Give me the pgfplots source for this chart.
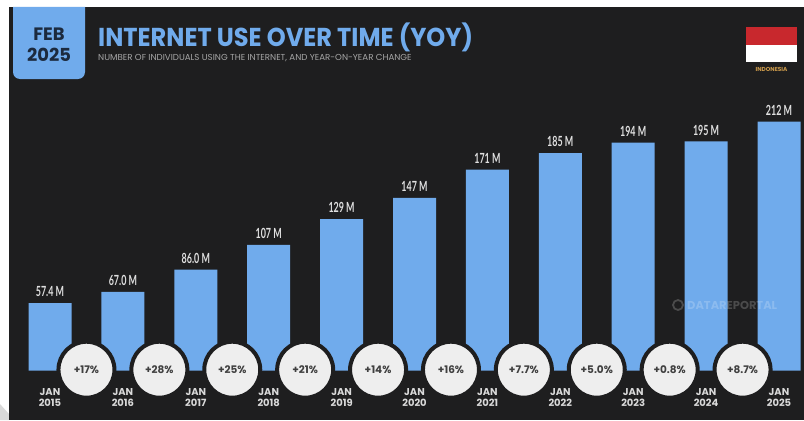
\documentclass[border=0pt]{standalone}
\usepackage{fontspec}
\usepackage{pgfplots}
\pgfplotsset{compat=1.18}
\setmainfont{Poppins}
\newfontfamily\titlefont[FakeStretch=0.93]{Poppins}
\newfontfamily\cond[FakeStretch=0.64]{Lato}
\definecolor{bg}{RGB}{30,30,31}
\definecolor{barblue}{RGB}{112,171,236}
\definecolor{navy}{RGB}{28,42,62}
\definecolor{pale}{RGB}{238,238,238}
\definecolor{flagred}{RGB}{200,40,45}
\definecolor{tan}{RGB}{205,155,75}
\begin{document}
\begin{tikzpicture}[x=1bp,y=1bp]
\useasboundingbox (0,0) rectangle (804,420);
% page and header, positions in pixels of the 804x420 picture
\fill[white] (0,0) rectangle (804,420);
\fill[gray!30] (0,0) -- (9,0) -- (9,6) -- (0,16) -- cycle;
\fill[bg] (9,0) rectangle (804,413);
\begin{scope}[shift={(0,420)},y=-1bp]
\fill[barblue] (13,7) -- (85,7) -- (85,72) arc (0:90:7) -- (20,79) arc (90:180:7) -- cycle;
\node[navy,font=\fontsize{18}{21}\selectfont\bfseries,align=center] at (49,45) {FEB\\2025};
\node[barblue,font=\titlefont\fontsize{26}{28}\selectfont\bfseries,anchor=west,inner sep=0] at (98,37) {INTERNET USE OVER TIME (YOY)};
\node[gray!70!white,font=\fontsize{8.7}{9}\selectfont,anchor=west,inner sep=0] at (98,58) {NUMBER OF INDIVIDUALS USING THE INTERNET, AND YEAR-ON-YEAR CHANGE};
\fill[flagred] (746,27) rectangle (797,44.5);
\fill[white] (746,44.5) rectangle (797,62);
\node[tan,font=\fontsize{5.8}{6}\selectfont\bfseries,inner sep=0] at (771.5,69) {INDONESIA};
\end{scope}
\begin{axis}[
  at={(0,42)},anchor=south west,
  scale only axis,width=804bp,height=371bp,
  xmin=-0.686,xmax=10.343,ymin=0,ymax=315.7,
  axis line style={draw=none},
  major tick length=0,
  ytick=\empty,
  xtick={0,...,10},
  xticklabels={{JAN\\2015},{JAN\\2016},{JAN\\2017},{JAN\\2018},{JAN\\2019},{JAN\\2020},{JAN\\2021},{JAN\\2022},{JAN\\2023},{JAN\\2024},{JAN\\2025}},
  x tick label style={align=center,text=white!85!black,font=\fontsize{10}{11}\selectfont\bfseries,yshift=-14bp},
  clip=false,
  point meta=explicit symbolic,
  nodes near coords={\pgfplotspointmeta},
]
\addplot[ybar,bar width=43bp,fill=barblue,draw=none,
  every node near coord/.append style={text=white!88!black,font=\cond\fontsize{14}{15}\selectfont\bfseries,inner sep=6bp}]
 coordinates {
  (0,57.4) [57.4 M]
  (1,67.0) [67.0 M]
  (2,86.0) [86.0 M]
  (3,107) [107 M]
  (4,129) [129 M]
  (5,147) [147 M]
  (6,171) [171 M]
  (7,185) [185 M]
  (8,194) [194 M]
  (9,195) [195 M]
  (10,212) [212 M]
 };
\addplot[only marks,mark=*,mark size=28bp,
  mark options={fill=pale,draw=bg,line width=4bp},
  every node near coord/.append style={anchor=center,text=black!75,font=\fontsize{10.5}{11}\selectfont\bfseries}]
 coordinates {
  (0.5,0.8) [+17\%]
  (1.5,0.8) [+28\%]
  (2.5,0.8) [+25\%]
  (3.5,0.8) [+21\%]
  (4.5,0.8) [+14\%]
  (5.5,0.8) [+16\%]
  (6.5,0.8) [+7.7\%]
  (7.5,0.8) [+5.0\%]
  (8.5,0.8) [+0.8\%]
  (9.5,0.8) [+8.7\%]
 };
\end{axis}
\node[white,opacity=0.2,font=\fontsize{11.5}{12}\selectfont\bfseries,anchor=west,inner sep=0] at (687,115) {DATAREPORTAL};
\draw[white,opacity=0.2,line width=1.8bp] (678,115) circle (5bp);
\end{tikzpicture}
\end{document}
